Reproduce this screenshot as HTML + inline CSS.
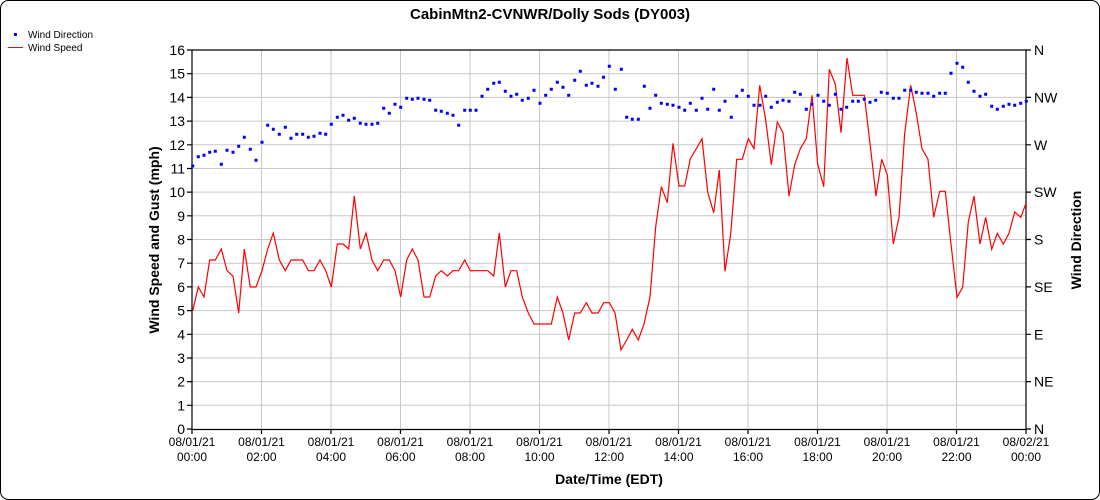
<!DOCTYPE html>
<html><head><meta charset="utf-8"><style>
html,body{margin:0;padding:0;background:#fff;}
svg{display:block;font-family:"Liberation Sans",Arial,sans-serif;}
</style></head><body>
<svg width="1100" height="500" viewBox="0 0 1100 500" xmlns="http://www.w3.org/2000/svg">
<rect x="0.5" y="0.5" width="1099" height="499" rx="8" fill="#fff" stroke="#000"/>
<text x="550" y="19" text-anchor="middle" font-size="15" font-weight="bold">CabinMtn2-CVNWR/Dolly Sods (DY003)</text>
<rect x="14" y="33" width="3" height="3" fill="#00f"/>
<text x="28" y="38" font-size="10">Wind Direction</text>
<line x1="8" y1="47.5" x2="23" y2="47.5" stroke="#f00"/>
<text x="28" y="51" font-size="10">Wind Speed</text>
<g stroke="#c8c8c8" stroke-width="1">
<path d="M192 73.7H1026M192 97.4H1026M192 121.1H1026M192 144.8H1026M192 168.5H1026M192 192.1H1026M192 215.8H1026M192 239.5H1026M192 263.2H1026M192 286.9H1026M192 310.6H1026M192 334.3H1026M192 358H1026M192 381.6H1026M192 405.3H1026"/>
<path d="M261.5 50V429M331 50V429M400.5 50V429M470 50V429M539.5 50V429M609 50V429M678.5 50V429M748 50V429M817.5 50V429M887 50V429M956.5 50V429"/>
</g>
<g stroke="#000" stroke-width="1.2" fill="none">
<path d="M192 50V429.5H1026V50H192"/>
<path d="M187 50H192M187 73.7H192M187 97.4H192M187 121.1H192M187 144.8H192M187 168.5H192M187 192.1H192M187 215.8H192M187 239.5H192M187 263.2H192M187 286.9H192M187 310.6H192M187 334.3H192M187 358H192M187 381.6H192M187 405.3H192M187 429H192"/>
<path d="M1026 50H1031M1026 97.4H1031M1026 144.8H1031M1026 192.1H1031M1026 239.5H1031M1026 286.9H1031M1026 334.3H1031M1026 381.6H1031M1026 429H1031"/>
<path d="M192 429V434M261.5 429V434M331 429V434M400.5 429V434M470 429V434M539.5 429V434M609 429V434M678.5 429V434M748 429V434M817.5 429V434M887 429V434M956.5 429V434M1026 429V434"/>
</g>
<g font-size="14" text-anchor="end">
<text x="185" y="55">16</text><text x="185" y="78.7">15</text><text x="185" y="102.4">14</text><text x="185" y="126.1">13</text><text x="185" y="149.8">12</text><text x="185" y="173.5">11</text><text x="185" y="197.1">10</text><text x="185" y="220.8">9</text><text x="185" y="244.5">8</text><text x="185" y="268.2">7</text><text x="185" y="291.9">6</text><text x="185" y="315.6">5</text><text x="185" y="339.3">4</text><text x="185" y="363">3</text><text x="185" y="386.6">2</text><text x="185" y="410.3">1</text><text x="185" y="434">0</text>
</g>
<g font-size="14">
<text x="1034" y="55">N</text><text x="1034" y="102.4">NW</text><text x="1034" y="149.8">W</text><text x="1034" y="197.1">SW</text><text x="1034" y="244.5">S</text><text x="1034" y="291.9">SE</text><text x="1034" y="339.3">E</text><text x="1034" y="386.6">NE</text><text x="1034" y="434">N</text>
</g>
<g font-size="12" text-anchor="middle">
<text x="192" y="446">08/01/21</text><text x="192" y="461">00:00</text>
<text x="261.5" y="446">08/01/21</text><text x="261.5" y="461">02:00</text>
<text x="331" y="446">08/01/21</text><text x="331" y="461">04:00</text>
<text x="400.5" y="446">08/01/21</text><text x="400.5" y="461">06:00</text>
<text x="470" y="446">08/01/21</text><text x="470" y="461">08:00</text>
<text x="539.5" y="446">08/01/21</text><text x="539.5" y="461">10:00</text>
<text x="609" y="446">08/01/21</text><text x="609" y="461">12:00</text>
<text x="678.5" y="446">08/01/21</text><text x="678.5" y="461">14:00</text>
<text x="748" y="446">08/01/21</text><text x="748" y="461">16:00</text>
<text x="817.5" y="446">08/01/21</text><text x="817.5" y="461">18:00</text>
<text x="887" y="446">08/01/21</text><text x="887" y="461">20:00</text>
<text x="956.5" y="446">08/01/21</text><text x="956.5" y="461">22:00</text>
<text x="1026" y="446">08/02/21</text><text x="1026" y="461">00:00</text>
</g>
<text x="609" y="484" text-anchor="middle" font-size="14" font-weight="bold">Date/Time (EDT)</text>
<text transform="translate(159,240) rotate(-90)" text-anchor="middle" font-size="14" font-weight="bold">Wind Speed and Gust (mph)</text>
<text transform="translate(1081,240) rotate(-90)" text-anchor="middle" font-size="14" font-weight="bold">Wind Direction</text>
<polyline fill="none" stroke="#f00" stroke-width="1.2" points="192.7,310.7 198.3,287 204,297 209.7,260 215.3,260 221.3,249 227,270.7 233,276 238.7,313 244.3,249 250.3,287 256,287 262,270.7 267.7,249 273.3,233 279.3,260 285.3,270.7 291,260 296.7,260 302.7,260 308.3,270.7 314,270.7 320,260 325.7,270.7 331.3,287 337.3,244 343,244 348.7,249 354.3,196 360.3,249 366,233 372,260 377.7,270.7 383.7,260 389.3,260 395,270.7 400.7,297 406.7,260 412.3,249 418,260 424,297 429.7,297 435.7,276 441.3,270.7 447.3,276 453,270.7 458.7,270.7 464.7,260 470.3,270.7 476,270.7 481.7,270.7 487.7,270.7 493.7,276 499.3,233 505.3,287 511,270.7 516.7,270.7 522.3,297 528.3,313 534,324 540,324 545.7,324 551.3,324 557.3,297 563,313 568.7,340 574.7,313 580.3,313 586.3,302.7 592,313 598,313 603.7,302.7 609.3,302.7 615,312.7 621,350 626.7,340 632.3,329.3 638.3,340 644,324 650,297 655.7,226.7 661.3,186.7 667.3,202.7 673,143.3 679,186 684.7,186 690.3,158.7 696.3,148.7 702,138.7 707.7,192 713.7,212.7 719.3,170 725,271.3 730.7,234 736.7,159.3 742.3,159.3 748.3,138.7 754,148.7 759.7,85.3 765.7,120 771.3,164.7 777.3,122 783,132.7 789,196 794.7,164.7 800.3,148.7 806.3,138.7 812,95.3 817.7,164 823.7,186.7 829.3,69.3 835.3,84 841,132.7 847,58 852.7,95.3 858.3,95.3 864.3,95.3 870,143.3 876,196 881.7,159.3 887.3,174.7 893.3,244 899,217.3 904.7,133.3 910.7,85.3 916.3,113.3 922,148.7 928,159.3 933.7,217.3 939.7,191.3 945.3,191.3 951,244 957,297.3 962.7,287.3 968.3,222 974,196 980,244 985.7,217.3 991.7,249.3 997.3,233.3 1003.3,244 1009,233.3 1014.7,212 1020.7,217.3 1026,203.3"/>
<path fill="none" stroke="#00f" stroke-width="3" stroke-linecap="square" d="M192.7 166h0M198.3 156.7h0M204 155.3h0M209.7 152.3h0M215.3 151.3h0M221.3 164.3h0M227 150.3h0M233 152.3h0M238.7 146.3h0M244.3 137.3h0M250.3 149.3h0M256 160.3h0M262 142.3h0M267.7 125.3h0M273.3 129.3h0M279.3 134.3h0M285.3 127.3h0M291 138.3h0M296.7 134.3h0M302.7 134.3h0M308.3 137.3h0M314 136.3h0M320 133.3h0M325.7 134.3h0M331.3 124.3h0M337.3 117.3h0M343 115.3h0M348.7 120.3h0M354.3 118.3h0M360.3 123.3h0M366 124.3h0M372 124.3h0M377.7 123.3h0M383.7 108.3h0M389.3 113.3h0M395 104.3h0M400.7 107.3h0M406.7 98.3h0M412.3 99.3h0M418 98.3h0M424 99.3h0M429.7 100.3h0M435.7 110.3h0M441.3 111.3h0M447.3 113.3h0M453 115.3h0M458.7 125.3h0M464.7 110.3h0M470.3 110.3h0M476 110.3h0M482 96.3h0M487.7 89.3h0M493.7 83.3h0M499.3 82.3h0M505.3 91.3h0M511 96.3h0M516.7 94.3h0M522.3 100.3h0M528.3 98.3h0M534 90.3h0M540 103.3h0M545.7 95.3h0M551.3 89.3h0M557.3 82.3h0M563 87.3h0M568.7 95.3h0M574.7 80.3h0M580.3 71.3h0M586.3 85.3h0M592 83.3h0M598 86.3h0M603.5 77.3h0M609.3 66.3h0M615.3 89.3h0M621.3 69.3h0M626.7 117.3h0M632.3 119.3h0M638.3 119.3h0M644.3 86.3h0M650 108.3h0M655.7 95.3h0M661.3 103.3h0M667.3 104.3h0M673 105.3h0M679 107.3h0M684.7 110.3h0M690.3 103.3h0M696.3 110.3h0M702 98.3h0M707.7 109.3h0M713.7 89.3h0M719.3 110.3h0M725 101.3h0M731.3 117.3h0M736.7 96.3h0M742.3 90.3h0M748.3 96.3h0M754 105.3h0M760 105.3h0M765.7 96.3h0M771.3 107.3h0M777.3 102.3h0M783 100.3h0M789 101.3h0M794.7 92.3h0M800.3 94.3h0M806.3 109.3h0M812 104.3h0M818 95.3h0M823.7 101.3h0M829.3 105.3h0M835.3 94.3h0M841 109.3h0M846.7 107.3h0M852.7 101.3h0M858.3 101.3h0M864.3 99.3h0M870 102.3h0M875.7 100.3h0M881.3 92.3h0M887.3 93.3h0M893.3 98.3h0M899 98.3h0M904.7 90.3h0M910.7 90.3h0M916.3 92.3h0M922 93.3h0M928 93.3h0M933.7 96.3h0M939.7 93.3h0M945.3 93.3h0M951 73.3h0M957 63.3h0M962.7 67.3h0M968.3 82.3h0M974 91.3h0M980 96.3h0M985.7 94.3h0M991.7 106.3h0M997.3 109.3h0M1003.3 106.3h0M1009 104.3h0M1014.7 105.3h0M1020.7 103.3h0M1026.3 101.3h0"/>
</svg>
</body></html>
